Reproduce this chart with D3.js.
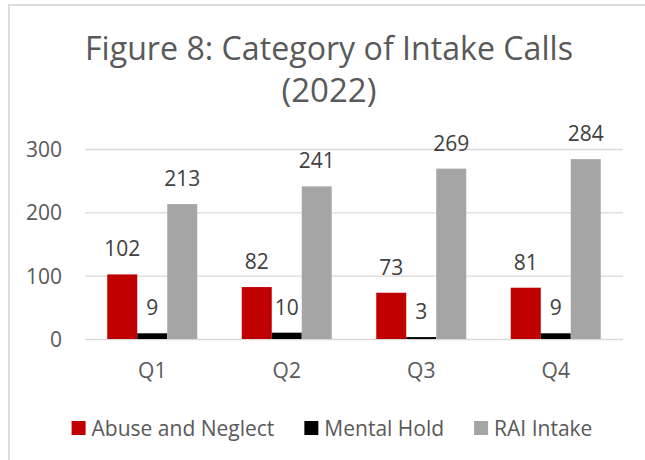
<!doctype html>
<html>
<head>
    <script src="https://d3js.org/d3.v7.min.js"></script>
    <style>
        body { margin: 0; background: #fff; }
        text { font-family: "Open Sans", "DejaVu Sans", sans-serif; }
    </style>
</head>
<body>
    <script>
        // dados
        var quarters = ["Q1", "Q2", "Q3", "Q4"];
        var seriesNames = ["Abuse and Neglect", "Mental Hold", "RAI Intake"];
        var abuseNeglect = [102, 82, 73, 81];
        var mentalHold = [9, 10, 3, 9];
        var raiIntake = [213, 241, 269, 284];
        var yTicks = [0, 100, 200, 300];
        var titleLines = ["Figure 8: Category of Intake Calls", "(2022)"];

        var colors = ["#c00000", "#000000", "#a5a5a5"];
        var seriesValues = [abuseNeglect, mentalHold, raiIntake];

        var width = 645;
        var height = 460;

        var svg = d3.select("body").append("svg")
            .attr("width", width)
            .attr("height", height);

        // borda do grafico
        svg.append("rect")
            .attr("x", 9)
            .attr("y", 5)
            .attr("width", 700)
            .attr("height", 500)
            .attr("fill", "none")
            .attr("stroke", "#d9d9d9")
            .attr("stroke-width", 1.75);

        // titulo
        svg.selectAll(".title")
            .data(titleLines)
            .enter()
            .append("text")
            .attr("class", "title")
            .attr("x", 329)
            .attr("y", function(d, i) { return 60 + i * 42; })
            .attr("text-anchor", "middle")
            .attr("font-size", 33)
            .attr("fill", "#595959")
            .attr("textLength", function(d, i) { return i == 0 ? 488 : null; })
            .attr("lengthAdjust", "spacingAndGlyphs")
            .text(function(d) { return d; });

        var y = d3.scaleLinear()
            .domain([0, 300])
            .range([339, 149]);

        var x = d3.scaleBand()
            .domain(quarters)
            .range([85, 623])
            .paddingInner(0.331)
            .paddingOuter(0.1655);

        var xSeries = d3.scaleBand()
            .domain(seriesNames)
            .range([0, x.bandwidth()]);

        // linhas de grade
        var yAxis = d3.axisLeft(y)
            .tickValues(yTicks)
            .tickSize(-(623 - 85))
            .tickPadding(23)
            .tickFormat(d3.format("d"));

        var gy = svg.append("g")
            .attr("transform", "translate(85,0)")
            .call(yAxis);
        gy.select(".domain").remove();
        gy.selectAll("line")
            .attr("stroke", "#d9d9d9")
            .attr("stroke-width", 1.3);
        gy.selectAll("text")
            .attr("font-size", 21)
            .attr("fill", "#595959")
            .attr("font-family", "Open Sans")
            .attr("dy", "0.36em");

        // barras
        var data = [];
        quarters.forEach(function(q, i) {
            seriesNames.forEach(function(s, j) {
                data.push({ q: q, s: s, v: seriesValues[j][i], c: colors[j] });
            });
        });

        svg.selectAll(".bar")
            .data(data)
            .enter()
            .append("rect")
            .attr("class", "bar")
            .attr("x", function(d) { return x(d.q) + xSeries(d.s); })
            .attr("y", function(d) { return y(d.v); })
            .attr("width", xSeries.bandwidth())
            .attr("height", function(d) { return y(0) - y(d.v); })
            .style("fill", function(d) { return d.c; });

        svg.selectAll(".label")
            .data(data)
            .enter()
            .append("text")
            .attr("class", "label")
            .attr("x", function(d) { return x(d.q) + xSeries(d.s) + xSeries.bandwidth() / 2; })
            .attr("y", function(d) { return y(d.v) - 18; })
            .attr("text-anchor", "middle")
            .attr("font-size", 21)
            .attr("fill", "#404040")
            .text(function(d) { return d.v; });

        // eixo x
        var xAxis = d3.axisBottom(x).tickSize(0).tickPadding(24);
        var gx = svg.append("g")
            .attr("transform", "translate(0,339)")
            .call(xAxis);
        gx.select(".domain").remove();
        gx.selectAll("text")
            .attr("font-size", 21)
            .attr("font-family", "Open Sans")
            .attr("fill", "#595959");

        // legenda
        var legend = svg.append("g");
        var items = legend.selectAll(".item")
            .data(seriesNames)
            .enter()
            .append("g")
            .attr("class", "item");

        items.append("rect")
            .attr("width", 14)
            .attr("height", 14)
            .attr("y", 421)
            .style("fill", function(d, i) { return colors[i]; });

        items.append("text")
            .attr("x", 20)
            .attr("y", 436)
            .attr("font-size", 21)
            .attr("fill", "#595959")
            .text(function(d) { return d; });

        var pos = 0;
        var offsets = [];
        items.each(function() {
            var w = d3.select(this).select("text").node().getComputedTextLength();
            offsets.push(pos);
            pos += 20 + w + 30;
        });
        var total = pos - 30;
        var start = 332 - total / 2;
        items.attr("transform", function(d, i) { return "translate(" + (start + offsets[i]) + ",0)"; });
    </script>
</body>
</html>
